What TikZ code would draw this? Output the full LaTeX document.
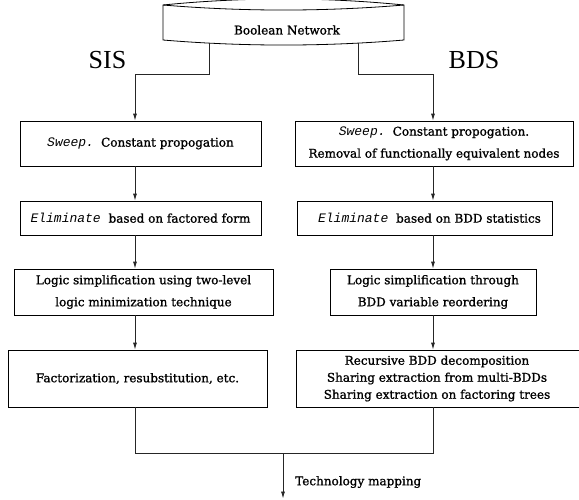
\documentclass[tikz,border=0pt]{standalone}
\usepackage{fontspec}
\setmainfont{DejaVu Serif}[UprightFeatures={FakeBold=1.2}]
\newfontfamily\bigserif{Liberation Serif}
\setmonofont{Liberation Mono}
\usetikzlibrary{arrows.meta}
\newcommand\monoit[1]{{\fontsize{13}{22}\ttfamily\itshape #1}}
\begin{document}
\begin{tikzpicture}[x=1pt,y=-1pt,
  box/.style={draw, line width=0.8pt, inner sep=0pt, align=center, font=\fontsize{12}{22}\selectfont},
  txt/.style={inner sep=0pt, align=center, font=\fontsize{12}{22}\selectfont},
  big/.style={inner sep=0pt, font=\bigserif\fontsize{26}{30}\selectfont},
  conn/.style={line width=0.8pt, draw=black!85},
  arr/.style={conn, -{Latex[length=7pt,width=4pt]}},
]
\clip (0,0) rectangle (579,499);
% top shape
\draw[line width=0.8pt] (163,5) .. controls (243,-3) and (324,-3) .. (404,5) -- (404,40)
  .. controls (324,46.7) and (243,46.7) .. (163,40) -- cycle;
\draw[line width=0.8pt] (163,5) .. controls (243,11.7) and (324,11.7) .. (404,5);
\node[txt] (bn) at (287,30) {Boolean Network};
\coordinate (bnL) at (209,43);
\coordinate (bnR) at (358,43);
\coordinate (lx) at (135,0);
\coordinate (rx) at (433,0);
\coordinate (mx) at (283,0);

\node[big] (sis) at (107.5,60.5) {SIS};
\node[big] (bds) at (474,60.5) {BDS};

% left column
\node[box, minimum width=241, minimum height=45] (L1) at (140.5,143.5)
  {\monoit{Sweep.}\, Constant propogation};
\node[box, minimum width=241, minimum height=34] (L2) at (140.5,218)
  {\monoit{Eliminate}\,\, based on factored form};
\node[box, minimum width=259, minimum height=46] (L3) at (143.5,292)
  {Logic simplification using two-level\\logic minimization technique};
\node[box, minimum width=259, minimum height=57] (L4) at (137.5,378.5)
  {Factorization, resubstitution, etc.};

% right column
\node[box, minimum width=278, minimum height=45] (R1) at (434,143.5)
  {\monoit{Sweep.}\, Constant propogation.\\Removal of functionally equivalent nodes};
\node[box, minimum width=255, minimum height=34] (R2) at (424.5,218)
  {\hspace*{10pt}\monoit{Eliminate}\,\, based on BDD statistics};
\node[box, minimum width=206, minimum height=46] (R3) at (433,292)
  {Logic simplification through\\BDD variable reordering};
\node[box, minimum width=292, minimum height=57, font=\fontsize{12}{17}\selectfont] (R4) at (442,378.5)
  {\hspace*{-10pt}Recursive BDD decomposition\\\hspace*{-10pt}Sharing extraction from multi-BDDs\\\hspace*{-10pt}Sharing extraction on factoring trees};

% connectors from top
\draw[arr] (bnL) -- (209,74) -| (L1.north -| lx);
\draw[arr] (bnR) -- (358,74) -| (R1.north -| rx);

\draw[arr] (L1.south -| lx) -- (L2.north -| lx);
\draw[arr] (L2.south -| lx) -- (L3.north -| lx);
\draw[arr] (L3.south -| lx) -- (L4.north -| lx);
\draw[arr] (R1.south -| rx) -- (R2.north -| rx);
\draw[arr] (R2.south -| rx) -- (R3.north -| rx);
\draw[arr] (R3.south -| rx) -- (R4.north -| rx);

\coordinate (mL) at (135,453);
\coordinate (mR) at (433,453);
\coordinate (mC) at (283,453);
\coordinate (out) at (283,498.5);
\draw[conn] (L4.south -| lx) -- (mL) -- (mR) -- (R4.south -| rx);
\draw[arr] (mC) -- (out);
\node[txt, anchor=west] (tm) at (295,482) {Technology mapping};
\end{tikzpicture}
\end{document}
